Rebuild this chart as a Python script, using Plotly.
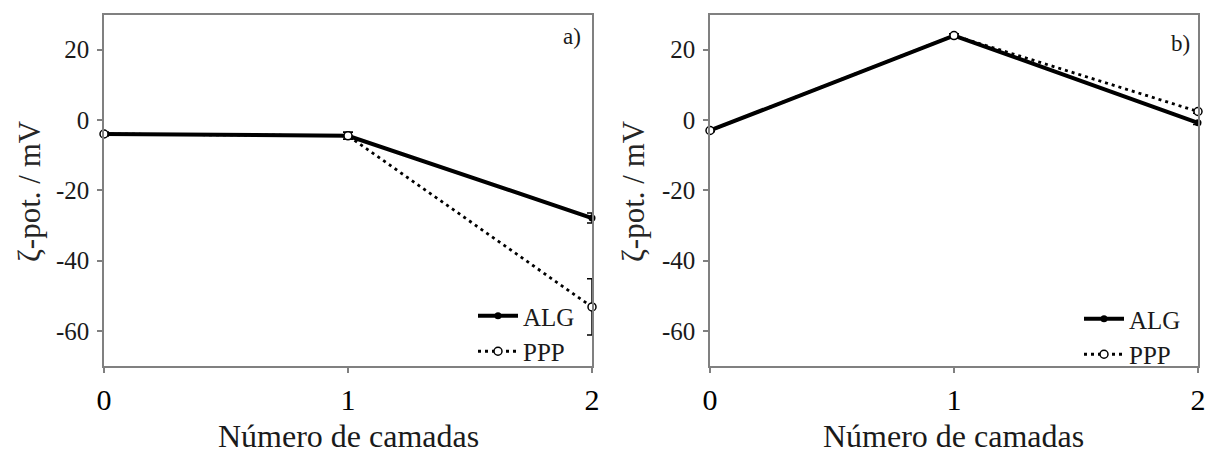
import plotly.graph_objects as go

layers = [0, 1, 2]
tick_y = [-60, -40, -20, 0, 20]

# panel a)
alg_a = [-4.0, -4.5, -27.9]
alg_a_err = [0.5, 1.0, 1.4]
ppp_a = [-4.0, -4.5, -53.2]
ppp_a_err = [0.5, 1.0, 8.0]

# panel b)
alg_b = [-3.0, 24.0, -0.8]
alg_b_err = [0.3, 0.5, 0.5]
ppp_b = [-3.0, 24.0, 2.4]
ppp_b_err = [0.3, 0.5, 0.5]

W, H = 1206, 453
FONT = "Liberation Serif, Times New Roman, serif"
AXC = "#808080"

fig = go.Figure()

def add_pair(alg, alg_err, ppp, ppp_err, xa, ya, legend):
    fig.add_trace(go.Scatter(
        x=layers, y=alg, name="ALG", mode="lines+markers",
        line=dict(color="black", width=4),
        marker=dict(symbol="circle", size=7, color="black"),
        error_y=dict(type="data", array=alg_err, visible=True, color="black", thickness=1.5, width=5),
        xaxis=xa, yaxis=ya, legend=legend, cliponaxis=False))
    fig.add_trace(go.Scatter(
        x=layers, y=ppp, name="PPP", mode="lines+markers",
        line=dict(color="black", width=2.8, dash="3px,4px"),
        marker=dict(symbol="circle", size=8, color="white", line=dict(color="black", width=1.5)),
        error_y=dict(type="data", array=ppp_err, visible=True, color="black", thickness=1.5, width=5),
        xaxis=xa, yaxis=ya, legend=legend, cliponaxis=False))

add_pair(alg_a, alg_a_err, ppp_a, ppp_a_err, "x", "y", "legend")
add_pair(alg_b, alg_b_err, ppp_b, ppp_b_err, "x2", "y2", "legend2")

ydom = [1 - 366 / H, 1 - 14.5 / H]
xdom1 = [104 / W, 592 / W]
xdom2 = [710 / W, 1198 / W]

xcommon = dict(range=[0, 2], tickvals=layers, ticktext=[str(v) for v in layers],
               showline=True, linecolor=AXC, linewidth=1.5, mirror=True,
               ticks="outside", ticklen=5, tickcolor=AXC, tickwidth=1.5,
               showgrid=False, zeroline=False, automargin=False,
               tickfont=dict(family=FONT, size=30, color="black"), ticklabelstandoff=1)
ycommon = dict(range=[-70, 30], tickvals=tick_y, ticktext=[str(v) for v in tick_y],
               showline=True, linecolor=AXC, linewidth=1.5, mirror=True,
               ticks="outside", ticklen=5, tickcolor=AXC, tickwidth=1.5,
               showgrid=False, zeroline=False, automargin=False,
               tickfont=dict(family=FONT, size=25, color="#1a1a1a"), ticklabelstandoff=3)

leg_common = dict(xanchor="right", yanchor="top", bgcolor="rgba(0,0,0,0)",
                  font=dict(family=FONT, size=25, color="#1a1a1a"),
                  tracegroupgap=0, itemwidth=40)

fig.update_layout(
    width=W, height=H,
    margin=dict(l=0, r=0, t=0, b=0),
    paper_bgcolor="white", plot_bgcolor="white",
    font=dict(family=FONT, color="black"),
    xaxis=dict(domain=xdom1, anchor="y", **xcommon),
    yaxis=dict(domain=ydom, anchor="x", **ycommon),
    xaxis2=dict(domain=xdom2, anchor="y2", **xcommon),
    yaxis2=dict(domain=ydom, anchor="x2", **ycommon),
    legend=dict(x=580 / W, y=1 - 293 / H, **leg_common),
    legend2=dict(x=1186 / W, y=1 - 296 / H, **leg_common),
    showlegend=True,
)

ann = []
for cx, lab, lx, ly in [(348, "a)", 572, 37), (954, "b)", 1180, 43)]:
    ann.append(dict(text="Número de camadas", x=cx / W, y=1 - 436 / H, xref="paper", yref="paper",
                    xanchor="center", yanchor="middle", showarrow=False,
                    font=dict(family=FONT, size=32, color="#1a1a1a")))
    ann.append(dict(text=lab, x=lx / W, y=1 - ly / H, xref="paper", yref="paper",
                    xanchor="center", yanchor="middle", showarrow=False,
                    font=dict(family=FONT, size=23, color="#1a1a1a")))
for cx in [30, 634]:
    ann.append(dict(text="ζ-pot. / mV", x=cx / W, y=1 - 191 / H, xref="paper", yref="paper",
                    xanchor="center", yanchor="middle", showarrow=False, textangle=-90,
                    font=dict(family=FONT, size=31, color="#262626")))
fig.update_layout(annotations=ann)

fig.write_html("out.html")
